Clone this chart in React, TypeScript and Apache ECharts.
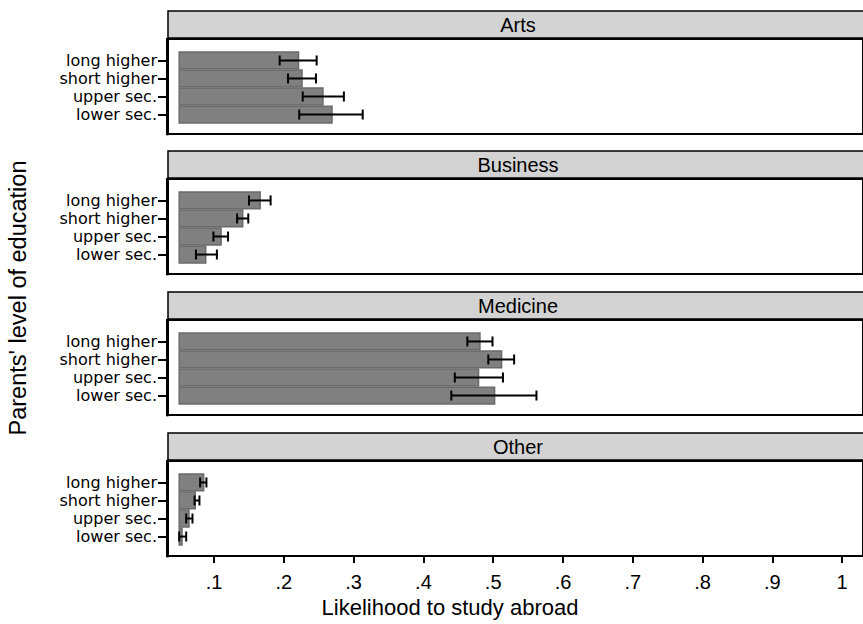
import React, { useEffect, useRef } from "react";
import * as echarts from "echarts";

const PANELS = ["Arts", "Business", "Medicine", "Other"];
const CATEGORIES = ["long higher", "short higher", "upper sec.", "lower sec."];
const BASE = 0.05;

// mean, lower CI, upper CI per category (long higher, short higher, upper sec., lower sec.)
const artsMean = [0.221, 0.226, 0.256, 0.269];
const artsLo = [0.194, 0.206, 0.227, 0.222];
const artsHi = [0.247, 0.246, 0.286, 0.313];

const businessMean = [0.166, 0.141, 0.110, 0.088];
const businessLo = [0.150, 0.133, 0.099, 0.074];
const businessHi = [0.181, 0.149, 0.120, 0.104];

const medicineMean = [0.481, 0.512, 0.479, 0.502];
const medicineLo = [0.463, 0.493, 0.445, 0.440];
const medicineHi = [0.499, 0.530, 0.514, 0.562];

const otherMean = [0.085, 0.073, 0.064, 0.054];
const otherLo = [0.080, 0.072, 0.060, 0.050];
const otherHi = [0.089, 0.079, 0.069, 0.060];

const MEANS = [artsMean, businessMean, medicineMean, otherMean];
const LOWS = [artsLo, businessLo, medicineLo, otherLo];
const HIGHS = [artsHi, businessHi, medicineHi, otherHi];

const X_TICKS = [0.1, 0.2, 0.3, 0.4, 0.5, 0.6, 0.7, 0.8, 0.9, 1];
const X_TICK_LABELS = [".1", ".2", ".3", ".4", ".5", ".6", ".7", ".8", ".9", "1"];

const FONT = "Liberation Sans, Arial, Helvetica, sans-serif";
const LABEL_FONT = "DejaVu Sans, Liberation Sans, sans-serif";

export default function App() {
  const ref = useRef<HTMLDivElement>(null);

  useEffect(() => {
    if (!ref.current) return;
    const chart = echarts.init(ref.current, null, { renderer: "svg" });

    const gridTops = [39, 179, 320, 461];
    const gridH = 95;
    const gridLeft = 167;
    const xMin = 0.0325;
    const xMax = 1.03;
    const gridW = 712;

    const grids: any[] = [];
    const xAxes: any[] = [];
    const yAxes: any[] = [];
    const series: any[] = [];
    const graphics: any[] = [];

    PANELS.forEach((name, i) => {
      const last = i === PANELS.length - 1;
      grids.push({
        left: gridLeft,
        top: gridTops[i],
        width: gridW,
        height: gridH,
        show: true,
        borderColor: "#000",
        borderWidth: 2,
        backgroundColor: "#fff",
      });
      xAxes.push({
        type: "value",
        gridIndex: i,
        min: xMin,
        max: xMax,
        position: "bottom",
        axisLine: { show: true, onZero: false, lineStyle: { color: "#000", width: 2 } },
        splitLine: { show: false },
        axisTick: last
          ? { show: true, customValues: X_TICKS, length: 7, lineStyle: { color: "#000", width: 2 } }
          : { show: false },
        axisLabel: last
          ? {
              show: true,
              customValues: X_TICKS,
              margin: 16,
              color: "#000",
              fontSize: 20,
              fontFamily: FONT,
              formatter: (v: number) => {
                const k = X_TICKS.findIndex((t) => Math.abs(t - v) < 1e-6);
                return k >= 0 ? X_TICK_LABELS[k] : "";
              },
            }
          : { show: false },
      });
      yAxes.push({
        type: "value",
        gridIndex: i,
        inverse: true,
        min: -1.19,
        max: 4.08,
        splitLine: { show: false },
        axisLine: { show: true, onZero: false, lineStyle: { color: "#000", width: 3 } },
        axisTick: {
          show: true,
          customValues: [0, 1, 2, 3],
          length: 9,
          lineStyle: { color: "#000", width: 2 },
        },
        axisLabel: { show: false },
      });

      const data = CATEGORIES.map((c, k) => [MEANS[i][k], k, LOWS[i][k], HIGHS[i][k]]);
      series.push({
        type: "custom",
        xAxisIndex: i,
        yAxisIndex: i,
        clip: false,
        data,
        renderItem: (params: any, api: any) => {
          const val = api.value(0);
          const idx = api.value(1);
          const lo = api.value(2);
          const hi = api.value(3);
          const label = CATEGORIES[idx];
          const p0 = api.coord([BASE, idx]);
          const p1 = api.coord([val, idx]);
          const pl = api.coord([lo, idx]);
          const ph = api.coord([hi, idx]);
          const pa = api.coord([xMin, idx]);
          const band = api.size([0, 1])[1];
          const bh = band * 0.93;
          const cap = 5;
          return {
            type: "group",
            children: [
              {
                type: "rect",
                shape: { x: p0[0], y: p0[1] - bh / 2, width: p1[0] - p0[0], height: bh },
                style: { fill: "#808080", stroke: "#6a6a6a", lineWidth: 1.5 },
              },
              {
                type: "line",
                shape: { x1: pl[0], y1: pl[1], x2: ph[0], y2: ph[1] },
                style: { stroke: "#000", lineWidth: 2 },
              },
              {
                type: "line",
                shape: { x1: pl[0], y1: pl[1] - cap, x2: pl[0], y2: pl[1] + cap },
                style: { stroke: "#000", lineWidth: 2 },
              },
              {
                type: "line",
                shape: { x1: ph[0], y1: ph[1] - cap, x2: ph[0], y2: ph[1] + cap },
                style: { stroke: "#000", lineWidth: 2 },
              },
              {
                type: "text",
                x: pa[0] - 10,
                y: pa[1],
                style: {
                  text: label,
                  fill: "#000",
                  font: `16px ${LABEL_FONT}`,
                  align: "right",
                  verticalAlign: "middle",
                },
              },
            ],
          };
        },
      });

      graphics.push({
        type: "rect",
        shape: { x: gridLeft + 1, y: gridTops[i] - 28, width: gridW, height: 27 },
        style: { fill: "#d3d3d3", stroke: "#000", lineWidth: 1.5 },
        z: 10,
      });
      graphics.push({
        type: "text",
        x: 518,
        y: gridTops[i] - 14,
        style: {
          text: name,
          fill: "#000",
          font: `20px ${FONT}`,
          textAlign: "center",
          textVerticalAlign: "middle",
        },
        z: 11,
      });
    });

    graphics.push({
      type: "text",
      x: 18,
      y: 298,
      rotation: Math.PI / 2,
      style: {
        text: "Parents' level of education",
        fill: "#000",
        font: `23.5px ${FONT}`,
        textAlign: "center",
        textVerticalAlign: "middle",
      },
    });
    graphics.push({
      type: "text",
      x: 450,
      y: 607,
      style: {
        text: "Likelihood to study abroad",
        fill: "#000",
        font: `22px ${FONT}`,
        textAlign: "center",
        textVerticalAlign: "middle",
      },
    });

    chart.setOption({
      animation: false,
      backgroundColor: "#fff",
      grid: grids,
      xAxis: xAxes,
      yAxis: yAxes,
      series,
      graphic: graphics,
    });

    return () => chart.dispose();
  }, []);

  return (
    <div
      ref={ref}
      style={{ position: "absolute", left: 0, top: 0, width: 863, height: 624 }}
    />
  );
}
